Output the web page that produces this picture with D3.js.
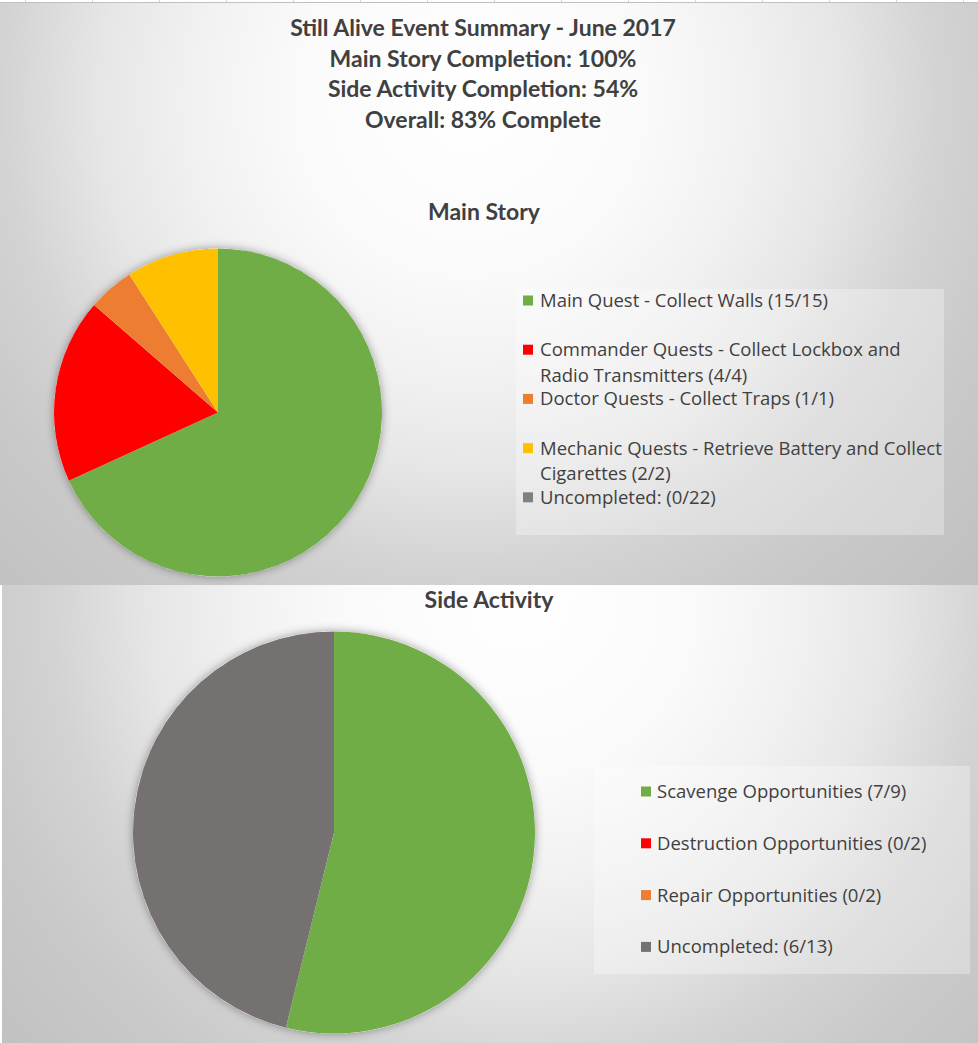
<!DOCTYPE html>
<html><head><meta charset="utf-8">
<script src="https://cdn.jsdelivr.net/npm/d3@7"></script>
<style>
html,body{margin:0;padding:0;background:#fff;overflow:hidden}
svg{display:block}
text{fill:#404040}
.t{font-family:Lato,sans-serif;font-weight:bold;font-size:23px}
.l{font-family:"Open Sans",sans-serif;font-size:18.5px}
</style></head><body>
<svg id="c" width="978" height="1043"></svg>
<script>
// ---- data ----
const titleLines = ["Still Alive Event Summary - June 2017","Main Story Completion: 100%","Side Activity Completion: 54%","Overall: 83% Complete"];
const mainTitle = "Main Story";
const mainCategories = [
  ["Main Quest - Collect Walls (15/15)"],
  ["Commander Quests - Collect Lockbox and","Radio Transmitters (4/4)"],
  ["Doctor Quests - Collect Traps (1/1)"],
  ["Mechanic Quests - Retrieve Battery and Collect","Cigarettes (2/2)"],
  ["Uncompleted: (0/22)"]
];
const mainValues = [15, 4, 1, 2, 0];
const mainColors = ["#70AD47","#FF0000","#ED7D31","#FFC000","#808080"];
const sideTitle = "Side Activity";
const sideCategories = [
  ["Scavenge Opportunities (7/9)"],
  ["Destruction Opportunities (0/2)"],
  ["Repair Opportunities (0/2)"],
  ["Uncompleted: (6/13)"]
];
const sideValues = [7, 0, 0, 6];
const sideColors = ["#70AD47","#FF0000","#ED7D31","#767171"];

const svg = d3.select("#c");
const defs = svg.append("defs");

function radial(id, cx, cy, r){
  const g = defs.append("radialGradient").attr("id", id)
    .attr("gradientUnits","userSpaceOnUse").attr("cx",cx).attr("cy",cy).attr("r",r)
    .attr("fx",cx).attr("fy",cy);
  [[0,"#ffffff"],[0.25,"#fafafa"],[0.4,"#f1f1f1"],[0.53,"#e6e6e6"],[0.67,"#d3d3d3"],[0.8,"#c9c9c9"],[1,"#c0c0c0"]]
    .forEach(([o,c])=>g.append("stop").attr("offset",o).attr("stop-color",c));
}
radial("bgTop", 470, 100, 700);
radial("bgBot", 520, 600, 700);

const f = defs.append("filter").attr("id","shadow").attr("x","-20%").attr("y","-20%").attr("width","140%").attr("height","140%");
f.append("feDropShadow").attr("dx",0).attr("dy",0).attr("stdDeviation",5).attr("flood-color","#000").attr("flood-opacity",0.38);

// spreadsheet remnants
svg.append("rect").attr("x",0).attr("y",0).attr("width",978).attr("height",3).attr("fill","#fff");
d3.range(25, 978, 67).forEach(x=>svg.append("line").attr("x1",x+0.5).attr("x2",x+0.5).attr("y1",0).attr("y2",3).attr("stroke","#d4d4d4"));
svg.append("line").attr("x1",0).attr("x2",978).attr("y1",2.5).attr("y2",2.5).attr("stroke","#c0c0c0");

// top chart
svg.append("rect").attr("x",0).attr("y",3).attr("width",978).attr("height",582).attr("fill","url(#bgTop)");
// bottom chart
svg.append("rect").attr("x",0).attr("y",585).attr("width",2).attr("height",458).attr("fill","#fff");
svg.append("rect").attr("x",2).attr("y",585).attr("width",976).attr("height",458).attr("fill","url(#bgBot)");

// titles
const tg = svg.append("g");
const titleY = d3.scaleLinear().domain([0,1]).range([36, 66.7]);
tg.selectAll("text").data(titleLines).join("text").attr("class","t")
  .attr("x",483).attr("y",(d,i)=>titleY(i)).attr("text-anchor","middle").text(d=>d);

svg.append("text").attr("class","t").attr("x",484).attr("y",220).attr("text-anchor","middle").text(mainTitle);
svg.append("text").attr("class","t").attr("x",489).attr("y",608).attr("text-anchor","middle").text(sideTitle);

function drawPie(values, colors, cx, cy, r){
  const pie = d3.pie().sort(null).value(d=>d);
  const arc = d3.arc().innerRadius(0).outerRadius(r);
  const g = svg.append("g").attr("transform",`translate(${cx},${cy})`);
  g.append("circle").attr("r",r).attr("fill","#fff").attr("filter","url(#shadow)");
  g.selectAll("path").data(pie(values)).join("path")
    .attr("d",arc).attr("fill",(d,i)=>colors[i]);
}
drawPie(mainValues, mainColors, 218, 412.5, 164);
drawPie(sideValues, sideColors, 334, 832.5, 201);

function drawLegend(cats, colors, box, y0, step, textX, sqX){
  svg.append("rect").attr("x",box[0]).attr("y",box[1]).attr("width",box[2]).attr("height",box[3])
    .attr("fill","#ffffff").attr("fill-opacity",0.3);
  const ys = d3.scaleLinear().domain([0,1]).range([y0, y0+step]);
  const g = svg.append("g");
  cats.forEach((lines,i)=>{
    const yc = ys(i);
    g.append("rect").attr("x",sqX).attr("y",yc-5).attr("width",10).attr("height",10).attr("fill",colors[i]);
    lines.forEach((ln,j)=>{
      g.append("text").attr("class","l").attr("x",textX).attr("y",yc+6.5+j*25.7).text(ln);
    });
  });
}
drawLegend(mainCategories, mainColors, [516,289,428,246], 300.5, 49.2, 540, 523);
drawLegend(sideCategories, sideColors, [594,766,376,208], 791.5, 51.8, 657, 641);
</script>
</body></html>
